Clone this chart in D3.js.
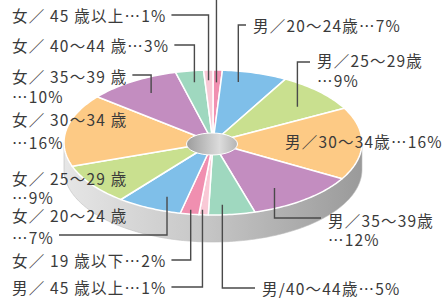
<!DOCTYPE html>
<html lang="ja">
<head>
  <meta charset="utf-8">
  <title>年代別構成比</title>
  <style>
    html, body { margin:0; padding:0; background:#fff; overflow:hidden; }
    svg { display:block; }
    .lbl { font-family:"Noto Sans CJK JP", "Noto Sans", sans-serif; font-size:15.5px; letter-spacing:1.2px; fill:#3a3a3a; }
    .leader { fill:none; stroke:#4a4a4a; stroke-width:1.4; }
  </style>
</head>
<body>
  <svg id="chart" width="445" height="299"></svg>
  <script src="https://d3js.org/d3.v7.min.js"></script>
  <script>
    // データ
    const categories = [
      "男／19歳以下", "男／20〜24歳", "男／25〜29歳", "男／30〜34歳", "男／35〜39歳",
      "男/40〜44歳", "男／ 45 歳以上",
      "女／ 19 歳以下", "女／ 20〜24 歳", "女／ 25〜29 歳", "女／ 30〜34 歳",
      "女／ 35〜39 歳", "女／ 40〜44 歳", "女／ 45 歳以上"
    ];
    const values = [1, 7, 9, 16, 12, 5, 1, 2, 7, 9, 16, 10, 3, 1];
    const colors = [
      "#f08fb0", "#7fbfe9", "#c9e08f", "#fdca85", "#c38dc0", "#9fd8bf", "#f9c9d6",
      "#f08fb0", "#7fbfe9", "#c9e08f", "#fdca85", "#c38dc0", "#9fd8bf", "#f9c9d6"
    ];

    // 楕円（擬似3D）の寸法
    const cx = 213, cy = 142.5, rx = 149, ry = 72.5, depth = 27;

    const svg = d3.select("#chart");
    const defs = svg.append("defs");

    const sideGrad = defs.append("linearGradient").attr("id", "side")
      .attr("x1", "0").attr("x2", "1").attr("y1", "0").attr("y2", "0");
    sideGrad.append("stop").attr("offset", "0").attr("stop-color", "#e6e6e6");
    sideGrad.append("stop").attr("offset", "0.45").attr("stop-color", "#c8c8c8");
    sideGrad.append("stop").attr("offset", "1").attr("stop-color", "#9a9a9a");

    const holeGrad = defs.append("linearGradient").attr("id", "hole")
      .attr("x1", "0").attr("x2", "1").attr("y1", "0").attr("y2", "0");
    holeGrad.append("stop").attr("offset", "0").attr("stop-color", "#9c9c9c");
    holeGrad.append("stop").attr("offset", "0.65").attr("stop-color", "#dcdcdc");
    holeGrad.append("stop").attr("offset", "1").attr("stop-color", "#b4b4b4");

    // 角度(時計回り・12時=0) → 楕円上の座標
    const pt = (a, f = 1) => [cx + rx * f * Math.sin(a), cy - ry * f * Math.cos(a)];
    const line = d3.line();

    const pie = d3.pie().sort(null).value(d => d).startAngle(0).endAngle(2 * Math.PI);
    const arcs = pie(values);

    function rim(a0, a1) {
      const n = Math.max(2, Math.ceil((a1 - a0) / 0.02));
      return d3.range(n + 1).map(k => pt(a0 + (a1 - a0) * k / n));
    }

    // 側面（手前側のみ）
    const front = rim(Math.PI / 2, Math.PI * 1.5);
    const frontLow = front.map(p => [p[0], p[1] + depth]).reverse();
    svg.append("path")
      .attr("d", line(front.concat(frontLow)) + "Z")
      .attr("fill", "url(#side)")
      .attr("stroke", "#bdbdbd").attr("stroke-width", 0.6);

    // 上面のスライス
    svg.append("g").selectAll("path")
      .data(arcs)
      .join("path")
      .attr("d", d => line([[cx, cy]].concat(rim(d.startAngle, d.endAngle))) + "Z")
      .attr("fill", (d, i) => colors[i])
      .attr("stroke", "#fff")
      .attr("stroke-width", 1.5)
      .attr("stroke-linejoin", "round");

    // 中央の穴
    svg.append("ellipse")
      .attr("cx", cx - 1).attr("cy", cy + 1.5)
      .attr("rx", 25.5).attr("ry", 11)
      .attr("fill", "url(#hole)")
      .attr("stroke", "#fff").attr("stroke-width", 1);

    // ラベル配置（ラベル位置・引出線のみ）
    // 男／19歳以下のラベルは画面外（上端）にあり、引出線だけが見える
    const layout = [
      { i: 0,  x: null, ys: [],         lead: -2,  t: 0.44, f: 0.83 },
      { i: 1,  x: 253,  ys: [25],       lead: 25,  t: 0.31, f: 0.85, right: true },
      { i: 2,  x: 317,  ys: [60, 80],   lead: 62,  t: 0.61, f: 0.75, right: true },
      { i: 3,  x: 285,  ys: [141] },
      { i: 4,  x: 328,  ys: [220, 239], lead: 218, t: 0.61, f: 0.75, right: true },
      { i: 5,  x: 262,  ys: [288],      lead: 288, t: 0.67, f: 0.86, right: true },
      { i: 6,  x: 12,   ys: [287],      lead: 287, t: 0.7,  f: 0.93 },
      { i: 7,  x: 12,   ys: [260],      lead: 260, t: 0.51, f: 0.94 },
      { i: 8,  x: 12,   ys: [215, 237], lead: 235, t: 0.38, f: 0.81 },
      { i: 9,  x: 12,   ys: [178, 197] },
      { i: 10, x: 12,   ys: [119, 142] },
      { i: 11, x: 12,   ys: [76, 96],   lead: 75,  t: 0.54, f: 0.8 },
      { i: 12, x: 12,   ys: [45],       lead: 45,  t: 0.55, f: 0.84 },
      { i: 13, x: 12,   ys: [15],       lead: 15,  t: 0.45, f: 0.86 }
    ];

    const gLab = svg.append("g");
    const gLead = svg.append("g");

    layout.forEach(L => {
      let ends = [];
      if (L.x !== null) {
        const name = categories[L.i], pct = "…" + values[L.i] + "%";
        const texts = L.ys.length === 2 ? [name, pct] : [name + pct];
        texts.forEach((s, k) => {
          const t = gLab.append("text").attr("class", "lbl")
            .attr("x", L.x).attr("y", L.ys[k])
            .attr("dominant-baseline", "central")
            .text(s);
          ends.push(L.x + t.node().getComputedTextLength());
        });
      }
      if (L.lead === undefined) return;
      const a = arcs[L.i];
      const [ax, ay] = pt(a.startAngle + (a.endAngle - a.startAngle) * L.t, L.f);
      let d;
      if (L.x === null) {
        d = `M${ax},${L.lead}V${ay}`;
      } else if (L.right) {
        d = `M${L.x - 7},${L.lead}H${ax}V${ay}`;
      } else {
        const k = Math.abs(L.ys[0] - L.lead) < 4 ? 0 : 1;
        d = `M${ends[k] + 5},${L.lead}H${ax}V${ay}`;
      }
      gLead.append("path").attr("class", "leader").attr("d", d);
    });
  </script>
</body>
</html>
